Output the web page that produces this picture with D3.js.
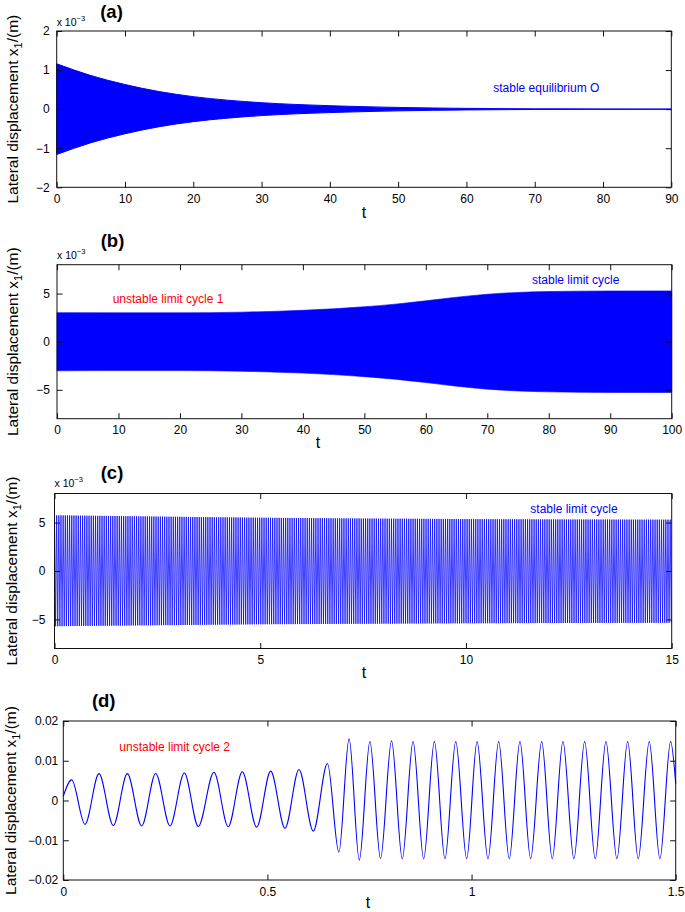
<!DOCTYPE html>
<html><head><meta charset="utf-8">
<script src="https://cdn.jsdelivr.net/npm/d3@7"></script>
<style>
body{margin:0;background:#fff}
svg{display:block}
text{font-family:"Liberation Sans",Arial,Helvetica,sans-serif;fill:#000}
</style>
</head><body>
<svg id="chart" width="685" height="912"></svg>
<script>
// ---------- DATA ----------
// (a) decaying oscillation: envelope amplitude (x 1e-3)
const aTimes = [0,5,10,15,20,25,30,35,40,45,50,55,60,70,80,90];
const aAmplitude = [1.16,0.86,0.63,0.45,0.32,0.23,0.165,0.12,0.088,0.063,0.044,0.03,0.02,0.008,0.004,0.002];
// (b) growing oscillation: envelope amplitude (x 1e-3)
const bTimes = [0,10,20,30,40,45,50,55,60,65,70,75,80,90,100];
const bAmplitude = [3.02,3.0,3.0,3.07,3.26,3.42,3.63,3.9,4.25,4.62,4.93,5.12,5.21,5.27,5.28];
// (c) stable limit cycle: upper / lower envelope (x 1e-3) and period (s)
const cTimes = [0,2.5,5,7.5,10,12.5,15];
const cUpper = [5.75,5.62,5.5,5.42,5.36,5.32,5.3];
const cLower = [-5.7,-5.6,-5.5,-5.45,-5.4,-5.37,-5.35];
const cPeriod = 0.0525;
// (d) transient: extrema of x1 (m)
const dTimes = [0,0.0205,0.0531,0.0874,0.1225,0.1568,0.192,0.2263,0.2613,0.2964,0.3306,0.369,0.404,0.4384,0.4736,0.508,0.543,0.5773,0.6123,0.647,0.675,0.700,0.725,0.751,0.777,0.804,0.8303,0.8567,0.8827,0.9089,0.9348,0.9613,0.988,1.0135,1.0402,1.0664,1.0923,1.1185,1.1447,1.1717,1.1976,1.2238,1.2507,1.2770,1.3029,1.3291,1.3560,1.3823,1.4082,1.4352,1.4613,1.4875,1.5];
const dValues = [0.0011,0.0052,-0.0060,0.00675,-0.0063,0.00675,-0.0064,0.0068,-0.0064,0.0069,-0.0065,0.0071,-0.0066,0.00725,-0.0067,0.0074,-0.0070,0.0078,-0.0077,0.0093,-0.0130,0.0155,-0.0150,0.0148,-0.0146,0.0150,-0.0147,0.0148,-0.0147,0.0148,-0.0147,0.0148,-0.0147,0.0148,-0.0147,0.0148,-0.0147,0.0148,-0.0147,0.0148,-0.0147,0.0148,-0.0147,0.0148,-0.0147,0.0148,-0.0147,0.0148,-0.0147,0.0148,-0.0147,0.0148,0.0043];

// tick values
const aXTicks = [0,10,20,30,40,50,60,70,80,90];
const aYTicks = [-2,-1,0,1,2];
const bXTicks = [0,10,20,30,40,50,60,70,80,90,100];
const bYTicks = [-5,0,5];
const cXTicks = [0,5,10,15];
const cYTicks = [-5,0,5];
const dXTicks = [0,0.5,1,1.5];
const dYTicks = [-0.02,-0.01,0,0.01,0.02];

const panelTitles = ["(a)","(b)","(c)","(d)"];
const yLabel = "Lateral displacement x";

// ---------- DRAWING ----------
const svg = d3.select("#chart");
const BLUE = "#0000ff", RED = "#ff0000";

function panel(cfg){
  const g = svg.append("g");
  const x = d3.scaleLinear().domain(cfg.xDomain).range([cfg.left, cfg.right]);
  const y = d3.scaleLinear().domain(cfg.yDomain).range([cfg.bottom, cfg.top]);
  cfg.draw(g, x, y);
  const fmt = cfg.fmt;
  const T = 5.5;
  const bottom = g.append("g").attr("transform",`translate(0,${cfg.bottom})`)
    .call(d3.axisBottom(x).tickValues(cfg.xTicks).tickSizeInner(-T).tickSizeOuter(0).tickPadding(7).tickFormat(fmt.x));
  const top = g.append("g").attr("transform",`translate(0,${cfg.top})`)
    .call(d3.axisTop(x).tickValues(cfg.xTicks).tickSizeInner(-T).tickSizeOuter(0).tickFormat(""));
  const left = g.append("g").attr("transform",`translate(${cfg.left},0)`)
    .call(d3.axisLeft(y).tickValues(cfg.yTicks).tickSizeInner(-T).tickSizeOuter(0).tickPadding(cfg.yPad).tickFormat(fmt.y));
  const right = g.append("g").attr("transform",`translate(${cfg.right},0)`)
    .call(d3.axisRight(y).tickValues(cfg.yTicks).tickSizeInner(-T).tickSizeOuter(0).tickFormat(""));
  [bottom,top,left,right].forEach(a=>{
    a.select(".domain").remove();
    a.selectAll("line").attr("stroke","#111").attr("stroke-width",1);
    a.selectAll("text").style("font-size","12px").style("font-family",'"Liberation Sans",Arial,sans-serif').attr("fill","#000");
  });
  g.append("rect").attr("x",cfg.left).attr("y",cfg.top)
    .attr("width",cfg.right-cfg.left).attr("height",cfg.bottom-cfg.top)
    .attr("fill","none").attr("stroke","#111").attr("stroke-width",1);
  // title
  g.append("text").attr("x",cfg.titleX).attr("y",cfg.titleY).attr("text-anchor","middle")
    .style("font-size","18.5px").style("font-weight","bold").text(cfg.title);
  // exponent
  if(cfg.exp){
    const t = g.append("text").attr("x",cfg.left).attr("y",cfg.expY).style("font-size","10.5px");
    t.append("tspan").text("x 10");
    t.append("tspan").attr("dy",-5).style("font-size","7.5px").text("\u22123");
  }
  // y label
  const yl = g.append("text").attr("transform",`translate(${cfg.ylX},${(cfg.top+cfg.bottom)/2}) rotate(-90)`)
    .attr("text-anchor","middle").style("font-size","15.5px");
  yl.append("tspan").text(yLabel);
  yl.append("tspan").attr("dy",4).style("font-size","11px").text("1");
  yl.append("tspan").attr("dy",-4).text("/(m)");
  // x label
  g.append("text").attr("x",cfg.tX).attr("y",cfg.tY).attr("text-anchor","middle").style("font-size","16px").text("t");
  // annotation
  g.append("text").attr("x",cfg.noteX).attr("y",cfg.noteY).attr("text-anchor","middle")
    .style("font-size","12px").attr("fill",cfg.noteColor).style("fill",cfg.noteColor).text(cfg.note);
}

const fmtPlain = {x: d=>String(d).replace("-","\u2212"), y: d=>String(d).replace("-","\u2212")};

// (a)
panel({left:56.7,right:671.3,top:31,bottom:187.3,xDomain:[0,90],yDomain:[-2,2],
  xTicks:aXTicks,yTicks:aYTicks,fmt:fmtPlain,yPad:7,
  title:panelTitles[0],titleX:111.5,titleY:18,exp:true,expY:25.5,ylX:18,tX:364,tY:217.5,
  note:"stable equilibrium O",noteX:546.3,noteY:91.5,noteColor:BLUE,
  draw:(g,x,y)=>{
    const data = aTimes.map((t,i)=>({t,a:aAmplitude[i]}));
    g.append("path").datum(data)
      .attr("d",d3.area().x(d=>x(d.t)).y0(d=>y(-d.a)).y1(d=>y(d.a)).curve(d3.curveMonotoneX))
      .attr("fill",BLUE).attr("stroke",BLUE).attr("stroke-width",1);
  }});

// (b)
panel({left:57,right:671.7,top:264.7,bottom:418.7,xDomain:[0,100],yDomain:[-8,8],
  xTicks:bXTicks,yTicks:bYTicks,fmt:fmtPlain,yPad:7,
  title:panelTitles[1],titleX:112.5,titleY:247,exp:true,expY:259,ylX:18,tX:318,tY:447.5,
  note:"unstable limit cycle 1",noteX:168,noteY:302.5,noteColor:RED,
  draw:(g,x,y)=>{
    const data = bTimes.map((t,i)=>({t,a:bAmplitude[i]}));
    g.append("path").datum(data)
      .attr("d",d3.area().x(d=>x(d.t)).y0(d=>y(-d.a)).y1(d=>y(d.a)).curve(d3.curveMonotoneX))
      .attr("fill",BLUE).attr("stroke",BLUE).attr("stroke-width",0.6);
    g.append("text").attr("x",575.7).attr("y",284).attr("text-anchor","middle")
      .style("font-size","12px").style("fill",BLUE).text("stable limit cycle");
  }});

// (c)
panel({left:54.5,right:671.7,top:493.5,bottom:648.5,xDomain:[0,15],yDomain:[-8,8],
  xTicks:cXTicks,yTicks:cYTicks,fmt:fmtPlain,yPad:9,
  title:panelTitles[2],titleX:112,titleY:479,exp:true,expY:487,ylX:16.5,tX:364,tY:677.5,
  note:"stable limit cycle",noteX:574,noteY:512.5,noteColor:BLUE,
  draw:(g,x,y)=>{
    const up = d3.scaleLinear().domain(cTimes).range(cUpper);
    const lo = d3.scaleLinear().domain(cTimes).range(cLower);
    const pts = [];
    const n = Math.floor(15/(cPeriod/2));
    for(let k=0;k<=n;k++){
      const t = k*cPeriod/2;
      pts.push([t, k%2===0 ? up(t) : lo(t)]);
    }
    g.append("path").datum(pts)
      .attr("d",d3.line().x(d=>x(d[0])).y(d=>y(d[1])))
      .attr("fill","none").attr("stroke",BLUE).attr("stroke-width",0.75);
  }});

// (d)
panel({left:63.3,right:675.7,top:721,bottom:880,xDomain:[0,1.5],yDomain:[-0.02,0.02],
  xTicks:dXTicks,yTicks:dYTicks,fmt:fmtPlain,yPad:5,
  title:panelTitles[3],titleX:103.7,titleY:706.5,exp:false,ylX:15.5,tX:368,tY:907.5,
  note:"unstable limit cycle 2",noteX:174.7,noteY:751,noteColor:RED,
  draw:(g,x,y)=>{
    const data = dTimes.map((t,i)=>[t,dValues[i]]);
    g.append("path").datum(data)
      .attr("d",d3.line().x(d=>x(d[0])).y(d=>y(d[1])).curve(d3.curveMonotoneX))
      .attr("fill","none").attr("stroke",BLUE).attr("stroke-width",1.1);
  }});
</script>
</body></html>
